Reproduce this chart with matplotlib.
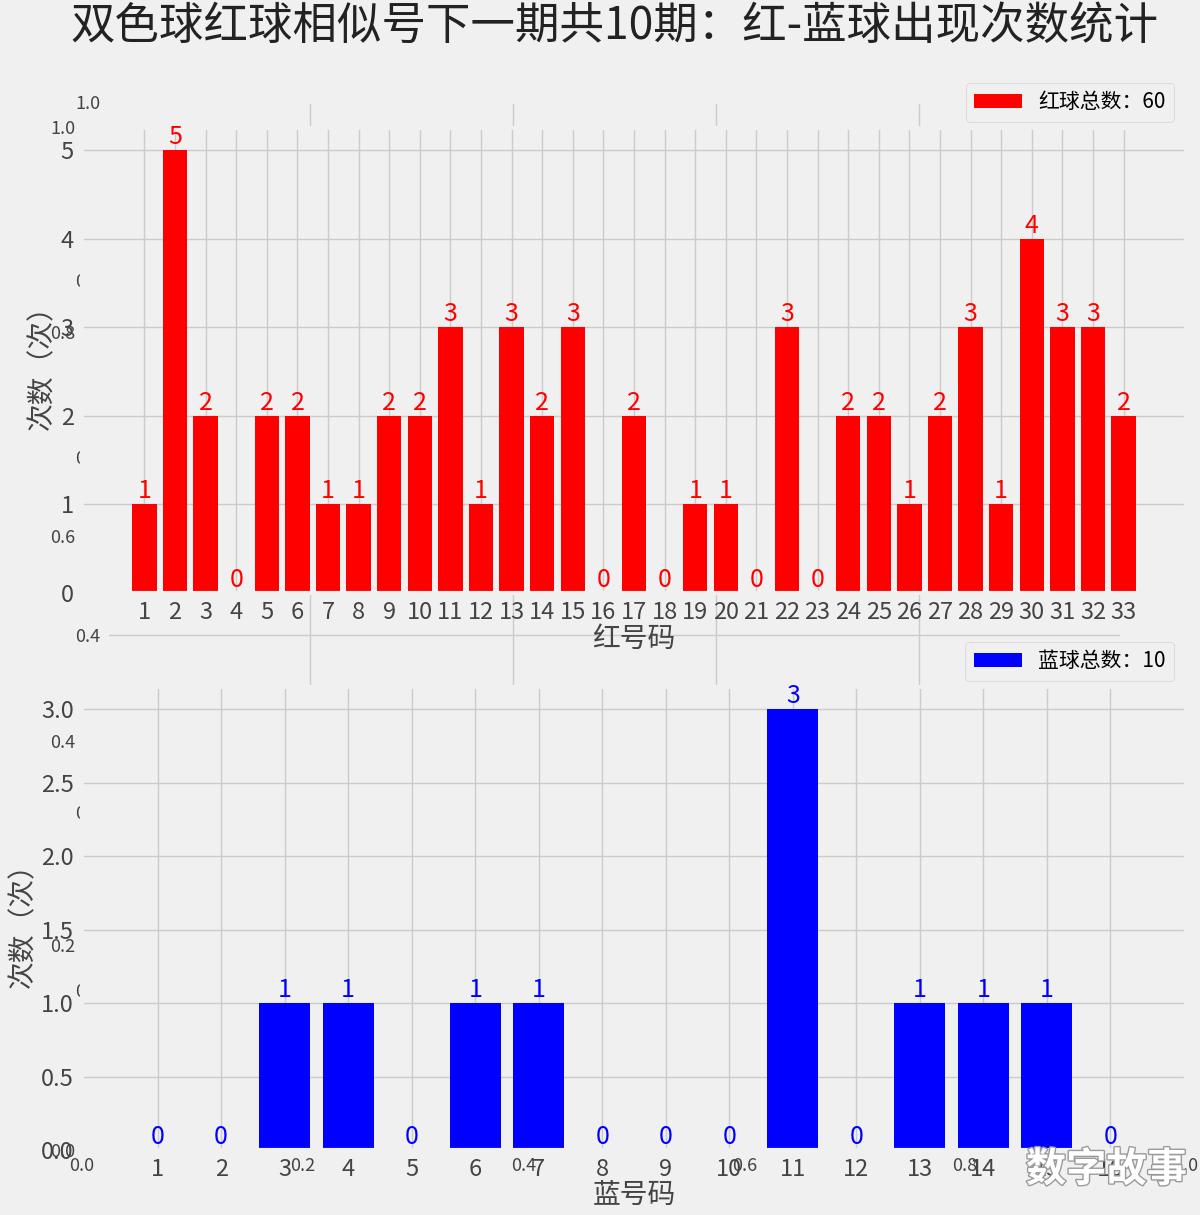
import matplotlib
matplotlib.use('Agg')
import matplotlib.pyplot as plt
import matplotlib.patheffects as pe
import numpy as np

plt.style.use('fivethirtyeight')
plt.rcParams['font.family'] = ['Noto Sans CJK SC', 'DejaVu Sans']
plt.rcParams['axes.unicode_minus'] = False

# data
red_nums = list(range(1, 34))
red_counts = [1, 5, 2, 0, 2, 2, 1, 1, 2, 2, 3, 1, 3, 2, 3, 0, 2, 0, 1, 1,
              0, 3, 0, 2, 2, 1, 2, 3, 1, 4, 3, 3, 2]
blue_nums = list(range(1, 17))
blue_counts = [0, 0, 1, 1, 0, 1, 1, 0, 0, 0, 3, 0, 1, 1, 1, 0]

title = '双色球红球相似号下一期共10期：红-蓝球出现次数统计'
W, H = 1200, 1215
TICK_C = '#444444'

fig = plt.figure(figsize=(12, 12.15), dpi=100)


def box(l, t, r, b):
    return [l / W, 1 - b / H, (r - l) / W, (b - t) / H]


# leftover background axes (0..1 ticks peeking through)
ax_b = fig.add_axes(box(82, 127, 1186, 1150))
ax_a = fig.add_axes(box(107, 102, 1122, 990))
for a in (ax_b, ax_a):
    a.tick_params(labelsize=13, colors=TICK_C, pad=5)

fig.text(0.5125, 0.979, title, ha='center', va='center', fontsize=32, color='#222222')

# red balls
ax1 = fig.add_axes(box(82, 128, 1186, 593))
ax1.bar(red_nums, red_counts, color='red', label='红球总数：%d' % sum(red_counts))
for x, v in zip(red_nums, red_counts):
    ax1.text(x, v, str(v), ha='center', va='bottom', color='red', fontsize=18)
ax1.set_xticks(red_nums)
ax1.tick_params(labelsize=17, colors=TICK_C, pad=6)
ax1.set_xlabel('红号码', fontsize=20, color=TICK_C, labelpad=0)
ax1.set_ylabel('次数（次）', fontsize=20, color=TICK_C, labelpad=2)
ax1.legend(loc='lower right', bbox_to_anchor=(0.995, 1), borderaxespad=0.3,
           fontsize=15, handlelength=2.3)

# blue balls
ax2 = fig.add_axes(box(82, 687, 1186, 1150))
ax2.bar(blue_nums, blue_counts, color='blue', label='蓝球总数：%d' % sum(blue_counts))
for x, v in zip(blue_nums, blue_counts):
    ax2.text(x, v, str(v), ha='center', va='bottom', color='blue', fontsize=18)
ax2.set_xticks(blue_nums)
ax2.tick_params(labelsize=17, colors=TICK_C, pad=6)
ax2.set_xlabel('蓝号码', fontsize=20, color=TICK_C, labelpad=0)
ax2.set_ylabel('次数（次）', fontsize=20, color=TICK_C, labelpad=2)
ax2.legend(loc='lower right', bbox_to_anchor=(0.995, 1), borderaxespad=0.3,
           fontsize=15, handlelength=2.3)

# site watermark
fig.text(0.922, 0.037, '数字故事', ha='center', va='center', fontsize=29,
         color='white', weight='bold',
         path_effects=[pe.withStroke(linewidth=2, foreground='#9a9a9a')])

plt.savefig('out.png', dpi=100, facecolor='#f0f0f0')
